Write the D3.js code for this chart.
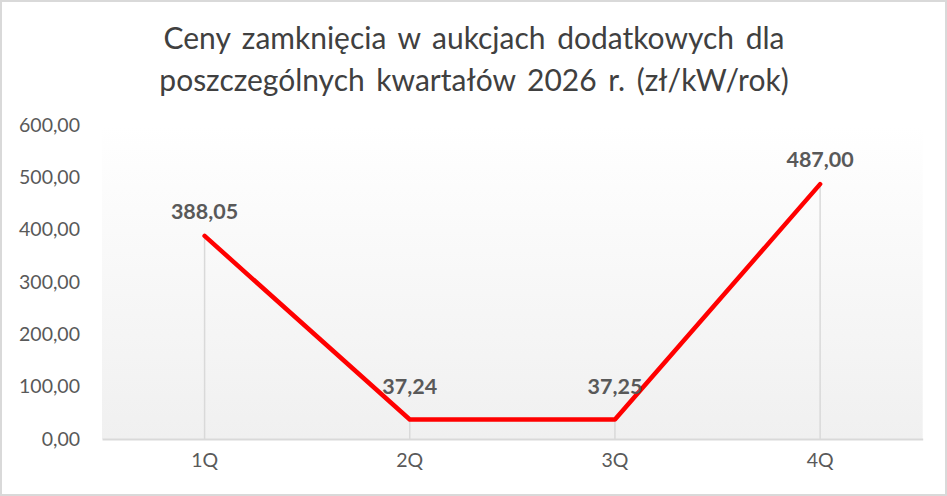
<!DOCTYPE html>
<html><head><meta charset="utf-8">
<script src="https://cdn.jsdelivr.net/npm/d3@7"></script>
<style>html,body{margin:0;padding:0;background:#fff;}svg{display:block;}</style>
</head><body>
<svg id="c" width="947" height="496"></svg>
<script>
const titleLines = ["Ceny zamknięcia w aukcjach dodatkowych dla", "poszczególnych kwartałów 2026 r. (zł/kW/rok)"];
const categories = ["1Q", "2Q", "3Q", "4Q"];
const values = [388.05, 37.24, 37.25, 487.00];
const yTicks = [0, 100, 200, 300, 400, 500, 600];

const W = 947, H = 496;
const m = {left: 102, right: 24.3, top: 125, bottom: 57};
const font = "Lato, 'Open Sans', sans-serif";
const grey = "#595959";
const fmt = v => v.toFixed(2).replace(".", ",");

const svg = d3.select("#c");
const defs = svg.append("defs");
const grad = defs.append("linearGradient").attr("id", "bg").attr("x1", 0).attr("y1", 0).attr("x2", 0).attr("y2", 1);
grad.append("stop").attr("offset", "0%").attr("stop-color", "#ffffff");
grad.append("stop").attr("offset", "100%").attr("stop-color", "#f0f0f0");

svg.append("rect").attr("x", 1).attr("y", 1).attr("width", W - 2).attr("height", H - 2)
  .attr("fill", "#fff").attr("stroke", "#d9d9d9").attr("stroke-width", 2);

const x = d3.scaleBand().domain(categories).range([m.left, W - m.right]).padding(0);
const y = d3.scaleLinear().domain([0, 600]).range([H - m.bottom, m.top]);

svg.append("rect").attr("x", m.left).attr("y", m.top)
  .attr("width", W - m.right - m.left).attr("height", H - m.bottom - m.top)
  .attr("fill", "url(#bg)");

// title
const title = svg.append("text").attr("text-anchor", "middle")
  .attr("font-family", font).attr("font-weight", 400).attr("font-size", 26)
  .attr("word-spacing", 4).attr("fill", "#404040");
titleLines.forEach((t, i) => {
  title.append("tspan").attr("x", 474).attr("y", i === 0 ? 49 : 91).text(t);
});
const tw = d3.max(title.selectAll("tspan").nodes(), n => n.getComputedTextLength());
title.attr("font-size", 26 * 632 / tw);

// y axis
const yAxis = d3.axisLeft(y).tickValues(yTicks).tickFormat(fmt).tickSize(0).tickPadding(0);
const ya = svg.append("g").attr("transform", `translate(80,0)`).call(yAxis);
ya.select(".domain").remove();
ya.selectAll("text").attr("font-family", font).attr("font-size", 19.5).attr("fill", grey);

// x axis
const xAxis = d3.axisBottom(x).tickSize(0).tickPadding(0);
const xa = svg.append("g").attr("transform", `translate(0,${H - m.bottom})`).call(xAxis);
xa.select(".domain").attr("stroke", "#d9d9d9").attr("stroke-width", 2);
xa.selectAll("text").attr("font-family", font).attr("font-size", 19.5).attr("fill", grey).attr("dy", "1.45em");

// drop lines
svg.append("g").selectAll("line").data(values).join("line")
  .attr("x1", (d, i) => x(categories[i]) + x.bandwidth() / 2)
  .attr("x2", (d, i) => x(categories[i]) + x.bandwidth() / 2)
  .attr("y1", d => y(d)).attr("y2", y(0))
  .attr("stroke", "#d9d9d9").attr("stroke-width", 1.5);

// line
const line = d3.line().x((d, i) => x(categories[i]) + x.bandwidth() / 2).y(d => y(d));
svg.append("path").datum(values).attr("d", line).attr("fill", "none")
  .attr("stroke", "#ff0000").attr("stroke-width", 4.5).attr("stroke-linejoin", "round").attr("stroke-linecap", "round");

// labels
svg.append("g").selectAll("text").data(values).join("text")
  .attr("x", (d, i) => x(categories[i]) + x.bandwidth() / 2)
  .attr("y", d => y(d) - (d < 100 ? 26 : 17))
  .attr("text-anchor", "middle").attr("font-family", font).attr("font-weight", 700)
  .attr("font-size", 21.5).attr("fill", grey).text(fmt);
</script>
</body></html>
